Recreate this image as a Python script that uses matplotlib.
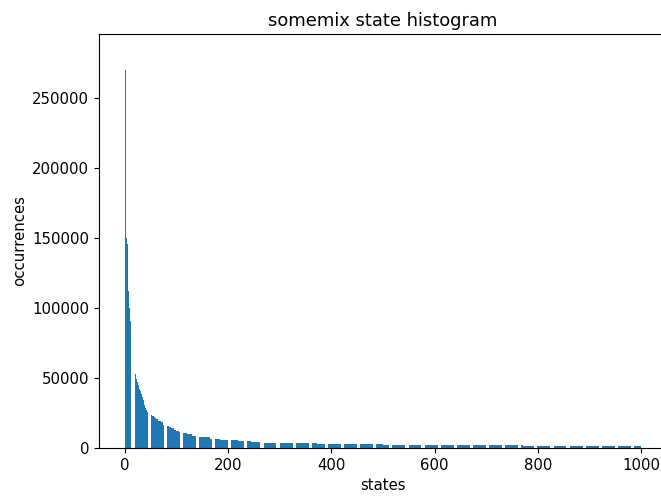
import numpy as np
import matplotlib
matplotlib.use("Agg")
import matplotlib.pyplot as plt

# occurrences of the 60 most frequent states, read one by one
head_counts = [
    282000, 270000, 155000, 150000, 147000, 146000, 125000, 112000, 110000, 100000,
    93000, 91000, 85000, 79000, 77000, 70000, 67000, 63000, 59000, 56000,
    53000, 51000, 49500, 48000, 47000, 46500, 45000, 43500, 42000, 41500,
    40500, 39500, 38500, 37500, 36500, 35500, 34000, 32500, 31000, 29500,
    28500, 27500, 27000, 26500, 26000, 25500, 25200, 25000, 24600, 24200,
    24000, 23800, 23500, 23200, 22900, 22600, 22300, 22000, 21700, 21400,
]

# remaining states as runs of (roughly) equal height
tail_levels = [
    20500, 19500, 18500, 16500, 15500, 14800, 14000, 13000, 12200, 11500,
    11000, 10500, 9800, 8800, 8200, 7800, 6600, 6000, 5600, 4900,
    4200, 3800, 3300, 2600, 1800, 1200,
]
tail_runs = [
    5, 5, 5, 5, 5, 5, 5, 5, 5, 5,
    5, 5, 10, 10, 10, 15, 20, 15, 20, 25,
    25, 25, 77, 128, 272, 228,
]

counts = np.concatenate([head_counts, np.repeat(tail_levels, tail_runs)])
states = np.arange(len(counts))

plt.rcParams["font.size"] = 10.7

fig = plt.figure(figsize=(6.61, 4.96), dpi=100)
ax = fig.add_axes([99.0 / 661, 1 - 448 / 496, 567.5 / 661, 414 / 496])
ax.bar(states, counts)
ax.set_title("somemix state histogram")
ax.set_xlabel("states")
ax.set_ylabel("occurrences")

fig.savefig("out.png", dpi=100)
